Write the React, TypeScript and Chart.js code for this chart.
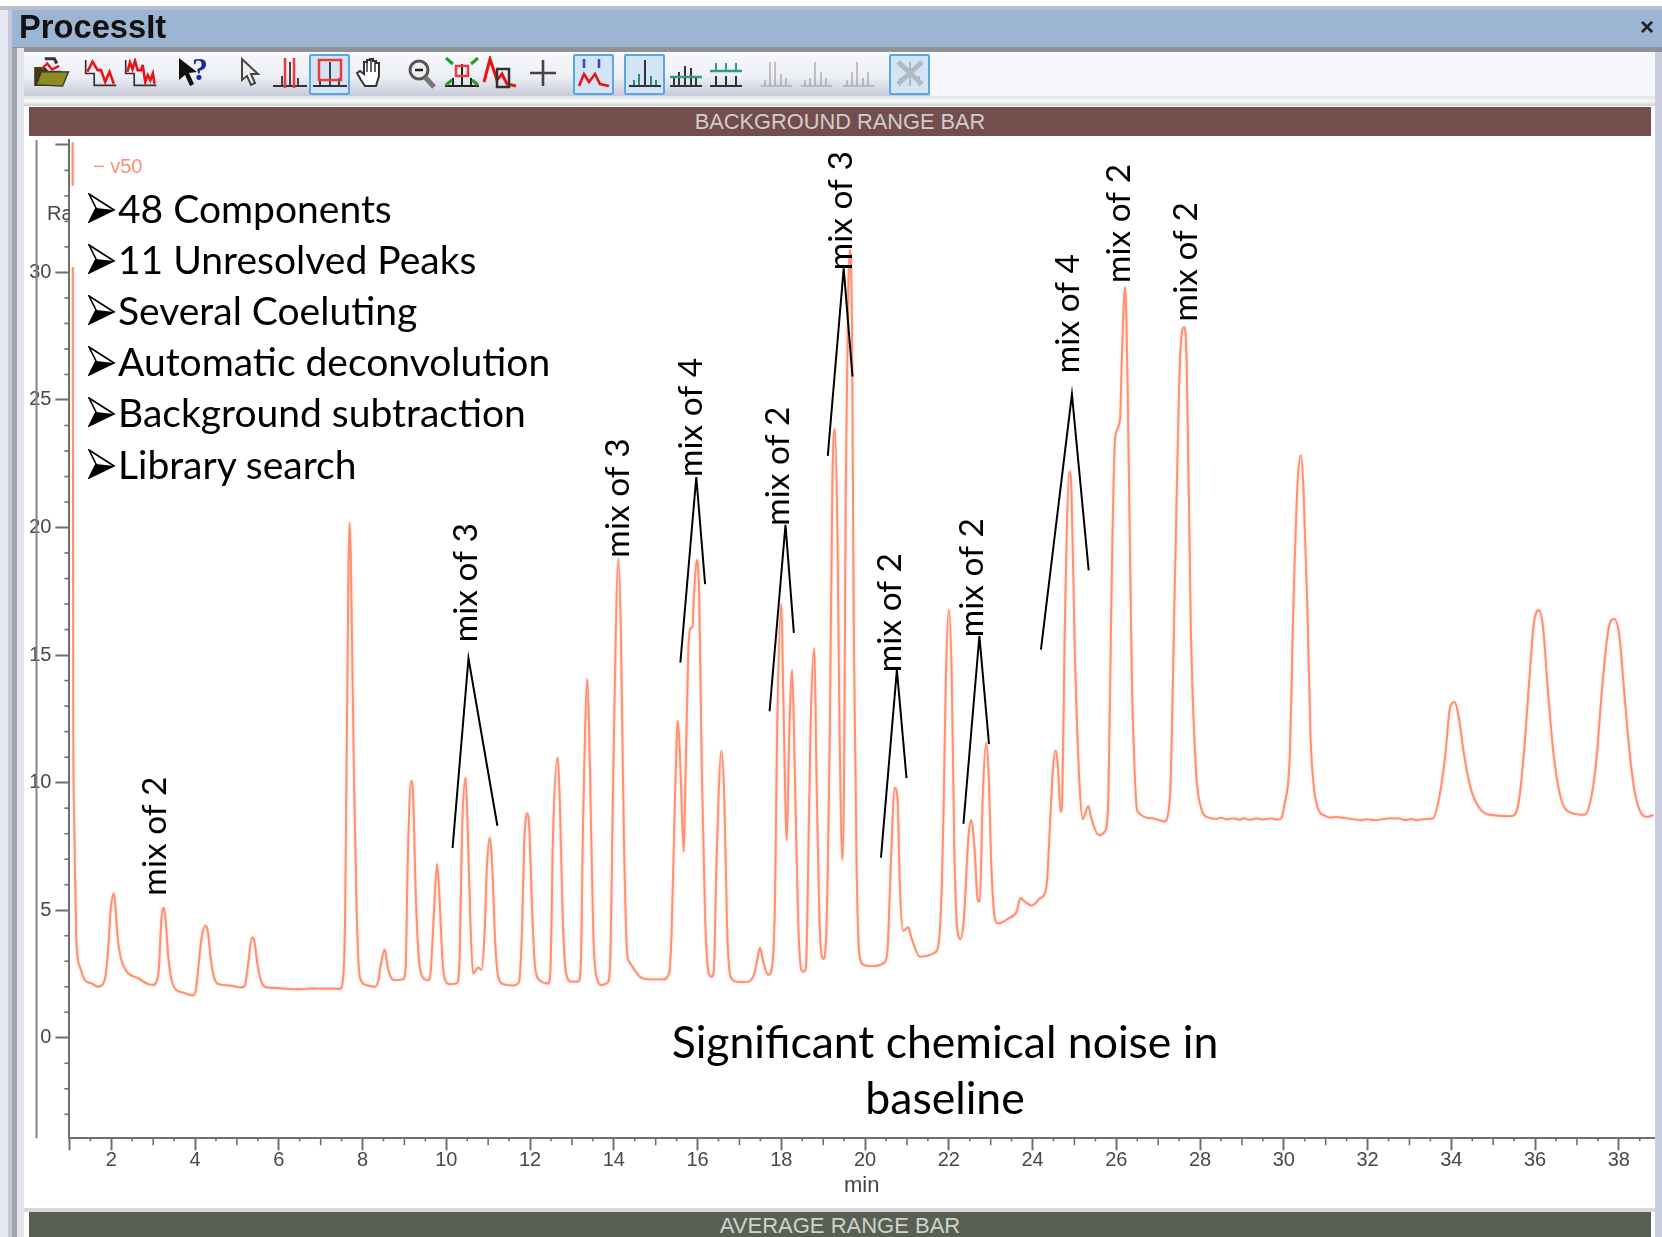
import React, { useEffect, useRef } from "react";
import { Chart, registerables } from "chart.js";

Chart.register(...registerables);

const seriesName = "v50";
const xLabelTicks = [1, 2, 4, 6, 8, 10, 12, 14, 16, 18, 20, 22, 24, 26, 28, 30, 32, 34, 36, 38];
const yLabelTicks = [0, 5, 10, 15, 20, 25, 30, 35];
const yUnlabelled = [35];
const xUnlabelled = [1];

const retentionMin = [
  1.078, 1.079, 1.08, 1.081, 1.09, 1.11, 1.13, 1.17, 1.25, 1.37, 1.53, 1.69, 1.81, 1.87, 1.93, 1.985, 2.06, 2.1, 2.15, 2.22, 2.3, 2.41, 2.65, 2.88, 3.0, 3.08, 3.14, 3.19, 3.25, 3.3, 3.36, 3.44, 3.52, 3.72, 3.96, 4.02, 4.08, 4.15, 4.24, 4.3, 4.37, 4.45, 4.56, 4.83, 5.11, 5.19, 5.26, 5.36, 5.42, 5.5, 5.6, 5.71, 5.95, 6.2, 6.5, 6.8, 7.1, 7.46, 7.53, 7.58, 7.62, 7.69, 7.79, 7.85, 7.91, 7.98, 8.1, 8.3, 8.38, 8.44, 8.53, 8.6, 8.69, 8.77, 8.97, 9.03, 9.08, 9.16, 9.21, 9.27, 9.34, 9.41, 9.57, 9.63, 9.7, 9.78, 9.84, 9.91, 9.97, 10.09, 10.25, 10.31, 10.38, 10.46, 10.51, 10.58, 10.64, 10.72, 10.76, 10.84, 10.91, 10.97, 11.04, 11.09, 11.17, 11.24, 11.36, 11.6, 11.74, 11.81, 11.86, 11.93, 11.98, 12.05, 12.12, 12.24, 12.44, 12.49, 12.55, 12.66, 12.71, 12.78, 12.86, 12.99, 13.15, 13.21, 13.27, 13.37, 13.43, 13.51, 13.61, 13.71, 13.85, 13.91, 13.99, 14.11, 14.17, 14.24, 14.32, 14.37, 14.5, 14.62, 14.86, 15.18, 15.32, 15.38, 15.46, 15.53, 15.59, 15.67, 15.71, 15.78, 15.83, 15.88, 15.91, 15.98, 16.04, 16.1, 16.18, 16.26, 16.34, 16.39, 16.45, 16.57, 16.64, 16.71, 16.79, 16.93, 17.13, 17.33, 17.41, 17.49, 17.57, 17.69, 17.78, 17.85, 17.9, 18.0, 18.05, 18.13, 18.19, 18.26, 18.32, 18.4, 18.48, 18.54, 18.59, 18.64, 18.7, 18.79, 18.84, 18.91, 19.0, 19.07, 19.16, 19.22, 19.28, 19.34, 19.39, 19.46, 19.5, 19.54, 19.6, 19.64, 19.69, 19.73, 19.8, 19.86, 19.96, 20.2, 20.47, 20.54, 20.61, 20.71, 20.78, 20.83, 20.91, 21.03, 21.11, 21.31, 21.67, 21.79, 21.87, 21.93, 22.0, 22.07, 22.13, 22.2, 22.28, 22.36, 22.47, 22.54, 22.61, 22.69, 22.74, 22.81, 22.89, 22.95, 23.02, 23.1, 23.18, 23.42, 23.62, 23.71, 23.82, 23.98, 24.18, 24.33, 24.42, 24.48, 24.55, 24.6, 24.67, 24.71, 24.77, 24.88, 24.93, 25.01, 25.12, 25.2, 25.25, 25.33, 25.41, 25.58, 25.73, 25.81, 25.89, 25.97, 26.09, 26.13, 26.21, 26.27, 26.37, 26.45, 26.5, 26.88, 27.15, 27.28, 27.4, 27.52, 27.62, 27.68, 27.78, 27.9, 28.02, 28.22, 28.4, 28.5, 28.63, 28.8, 28.95, 29.05, 29.17, 29.35, 29.5, 29.7, 29.85, 29.93, 30.02, 30.14, 30.23, 30.33, 30.41, 30.47, 30.56, 30.64, 30.72, 30.84, 30.97, 31.1, 31.25, 31.43, 31.6, 31.84, 32.0, 32.15, 32.34, 32.5, 32.75, 32.9, 33.05, 33.16, 33.35, 33.56, 33.72, 33.85, 33.97, 34.08, 34.17, 34.3, 34.46, 34.67, 34.91, 35.45, 35.61, 35.74, 35.86, 35.97, 36.09, 36.19, 36.31, 36.44, 36.6, 36.77, 37.18, 37.35, 37.47, 37.6, 37.76, 37.89, 38.01, 38.13, 38.26, 38.38, 38.53, 38.69, 38.83,
];

const intensity = [
  35.1, 33.4, null, 30.2, 13, 9, 7, 3.7, 2.78, 2.26, 2.13, 2.0, 2.13, 2.52, 3.57, 5.0, 5.66, 5.14, 3.96, 3.18, 2.78, 2.52, 2.33, 2.1, 2.07, 2.2, 2.78, 4.5, 5.11, 4.6, 3.18, 2.26, 1.93, 1.77, 1.66, 1.87, 2.78, 3.83, 4.39, 4.22, 3.18, 2.39, 2.1, 2.05, 1.97, 2.06, 2.78, 3.93, 3.76, 2.78, 2.13, 1.97, 1.95, 1.92, 1.9, 1.93, 1.92, 1.92, 2.26, 4.35, 10.9, 20.2, 10.9, 5.66, 2.78, 2.2, 2.06, 2.0, 2.26, 2.9, 3.46, 2.78, 2.33, 2.26, 2.29, 2.78, 6.96, 10.08, 9.45, 5.66, 3.18, 2.46, 2.26, 2.65, 4.74, 6.81, 5.4, 3.05, 2.26, 2.1, 2.13, 2.78, 8.27, 10.2, 8.27, 4.35, 2.52, 2.68, 2.76, 2.65, 3.96, 6.7, 7.84, 6.96, 3.7, 2.39, 2.1, 2.05, 2.2, 4.35, 7.6, 8.8, 8.27, 5.0, 2.78, 2.24, 2.13, 2.78, 8.0, 10.99, 9.32, 4.74, 2.52, 2.2, 2.2, 2.78, 8.67, 14.06, 10.63, 4.09, 2.26, 2.07, 2.16, 2.78, 10.63, 18.79, 15.85, 8.0, 3.31, 2.98, 2.65, 2.39, 2.29, 2.29, 2.52, 4.09, 9.32, 12.43, 10.63, 7.29, 9.97, 15.2, 16.05, 16.1, 17.16, 18.73, 17.29, 10.63, 4.74, 2.59, 2.39, 2.65, 6.7, 11.25, 9.32, 4.09, 2.39, 2.2, 2.18, 2.39, 2.92, 3.53, 2.98, 2.46, 2.78, 5.4, 11.93, 17.0, 13.24, 7.73, 11.93, 14.42, 10.63, 4.74, 2.65, 2.59, 2.77, 6.57, 12.27, 15.27, 10.37, 4.67, 3.09, 3.9, 12.27, 21.77, 23.86, 19.87, 12.27, 6.95, 10.37, 21.77, 29.37, 30.89, 27.47, 16.07, 6.57, 3.34, 2.86, 2.81, 2.96, 3.53, 6.57, 9.8, 9.23, 5.99, 4.19, 4.33, 3.9, 3.18, 3.34, 4.29, 8.47, 14.17, 16.79, 14.17, 7.52, 4.29, 3.87, 4.67, 7.9, 8.53, 7.52, 5.43, 5.33, 9.42, 11.57, 10.37, 6.57, 4.67, 4.48, 4.67, 4.95, 5.47, 5.33, 5.18, 5.47, 5.9, 8.47, 10.37, 11.26, 10.75, 8.85, 9.42, 16.07, 22.19, 21.39, 15.12, 9.99, 8.56, 8.75, 9.08, 8.56, 7.94, 8.09, 9.42, 17.97, 23.48, 24.24, 26.52, 29.43, 25.57, 14.17, 9.99, 8.89, 8.6, 8.48, 9.42, 17.97, 26.52, 27.85, 26.52, 16.07, 10.56, 9.04, 8.62, 8.58, 8.63, 8.56, 8.6, 8.55, 8.61, 8.54, 8.6, 8.56, 8.6, 8.55, 8.59, 9.19, 10.99, 16.99, 21.79, 22.84, 21.49, 16.99, 11.74, 9.79, 8.89, 8.71, 8.63, 8.66, 8.62, 8.58, 8.53, 8.57, 8.53, 8.56, 8.6, 8.6, 8.53, 8.58, 8.53, 8.57, 8.59, 9.49, 10.99, 12.94, 13.16, 12.64, 11.14, 9.79, 9.01, 8.74, 8.69, 9.26, 11.29, 13.99, 16.24, 16.76, 16.09, 13.54, 11.14, 9.49, 8.89, 8.74, 9.49, 10.99, 13.69, 16.09, 16.42, 15.79, 13.54, 11.14, 9.64, 8.81, 8.66, 8.74,
];

const leaderTimes = [
  [10.15, 10.53, 11.22],
  [15.59, 15.97, 16.18],
  [17.72, 18.1, 18.3],
  [19.11, 19.49, 19.7],
  [20.38, 20.76, 20.99],
  [22.35, 22.73, 22.96],
  [24.2, 24.94, 25.34],
];
const leaderValues = [
  [7.44, 14.87, 8.31],
  [14.71, 21.98, 17.78],
  [12.8, 20.11, 15.87],
  [22.81, 30.16, 25.92],
  [7.06, 14.42, 10.18],
  [8.39, 15.75, 11.51],
  [15.21, 25.22, 18.32],
];

const mixLabels = ["mix of 2", "mix of 3", "mix of 3", "mix of 4", "mix of 2", "mix of 3", "mix of 2", "mix of 2", "mix of 4", "mix of 2", "mix of 2"];
const mixLabelTimes = [3.06, 10.48, 14.1, 15.85, 17.92, 19.44, 20.6, 22.56, 24.86, 26.08, 27.67];
const mixLabelValues = [5.57, 15.5, 18.82, 21.98, 20.07, 30.08, 14.33, 15.7, 26.05, 29.58, 28.08];

const bulletItems = ["48 Components", "11 Unresolved Peaks", "Several Coeluting", "Automatic deconvolution", "Background subtraction", "Library search"];
const noteLines = ["Significant chemical noise in", "baseline"];

const axisGray = "#6f6f6f";
const labelGray = "#484848";
const traceColor = "#ff8f70";

const overlayPlugin = {
  id: "overlay",
  beforeDatasetDraw(chart: any, args: any) {
    if (chart.data.datasets[args.index].label === seriesName) {
      chart.ctx.save();
      chart.ctx.shadowColor = "rgba(255,160,130,0.7)";
      chart.ctx.shadowBlur = 2;
    }
  },
  afterDatasetDraw(chart: any, args: any) {
    if (chart.data.datasets[args.index].label === seriesName) {
      chart.ctx.restore();
    }
  },
  afterDraw(chart: any) {
    const { ctx, scales, chartArea } = chart;
    const x = scales.x;
    const y = scales.y;
    ctx.save();
    ctx.strokeStyle = axisGray;
    ctx.lineWidth = 1.6;
    // minor ticks on the time axis
    for (let i = 2; i <= 77; i++) {
      const t = i / 2;
      if (t % 2 === 0 || t === 1) continue;
      const len = t % 1 === 0 ? 7 : 3;
      const px = x.getPixelForValue(t);
      ctx.beginPath();
      ctx.moveTo(px, chartArea.bottom);
      ctx.lineTo(px, chartArea.bottom + len);
      ctx.stroke();
    }
    // minor ticks on the intensity axis
    for (let v = -3; v <= 34; v++) {
      if (v % 5 === 0) continue;
      const py = y.getPixelForValue(v);
      ctx.beginPath();
      ctx.moveTo(chartArea.left, py);
      ctx.lineTo(chartArea.left - 5, py);
      ctx.stroke();
    }
    // remaining clipped y-axis title
    ctx.strokeStyle = "#858585";
    ctx.lineWidth = 2;
    ctx.beginPath();
    ctx.moveTo(36.5, chartArea.top);
    ctx.lineTo(36.5, chartArea.bottom);
    ctx.stroke();
    ctx.save();
    ctx.beginPath();
    ctx.rect(30, chartArea.top, chartArea.left - 30, 200);
    ctx.clip();
    ctx.fillStyle = labelGray;
    ctx.font = '20px "Liberation Sans"';
    ctx.textAlign = "left";
    ctx.textBaseline = "middle";
    ctx.fillText("Ra", 47, 214);
    ctx.restore();
    // legend
    ctx.fillStyle = traceColor;
    ctx.font = '20px "Liberation Sans"';
    ctx.textAlign = "left";
    ctx.textBaseline = "middle";
    ctx.fillText("\u2212 " + seriesName, 93, 167);
    // mix labels
    ctx.fillStyle = "#000";
    ctx.font = "33.5px Lato";
    mixLabels.forEach((s, i) => {
      ctx.save();
      ctx.translate(x.getPixelForValue(mixLabelTimes[i]), y.getPixelForValue(mixLabelValues[i]));
      ctx.rotate(-Math.PI / 2);
      ctx.textAlign = "left";
      ctx.textBaseline = "middle";
      ctx.fillText(s, 0, 0);
      ctx.restore();
    });
    ctx.restore();
  },
};

const Svg = ({ x, y, w, h, vb, children, o }: any) => (
  <svg width={w} height={h} viewBox={vb} style={{ position: "absolute", left: x, top: y, filter: "blur(0.5px)", opacity: o ?? 1 }}>
    {children}
  </svg>
);

const Bars = ({ xs, hs, base, color, w = 2 }: any) => (
  <g stroke={color} strokeWidth={w}>
    {xs.map((bx: number, i: number) => (
      <line key={i} x1={bx} x2={bx} y1={base} y2={base - hs[i]} />
    ))}
  </g>
);

const Select = ({ x }: any) => (
  <div style={{ position: "absolute", left: x, top: 54, width: 37, height: 37, border: "2px solid #5ba6e6", borderRadius: 2, background: "#d3e5f5" }} />
);

const Chroma = ({ x, dense }: any) => (
  <Svg x={x} y={58} w={34} h={31} vb="0 0 40 36">
    <path d="M2 2V18H12V32H38" fill="none" stroke="#333" strokeWidth="2" />
    <path d={dense ? "M4 16L7 5L10 13L13 3L16 14H20L22 8L25 28L28 20L31 26L34 18L36 30" : "M4 16L10 4L16 14H20L25 28L30 16L35 30"} fill="none" stroke="#e81414" strokeWidth="3" />
  </Svg>
);

export default function App() {
  const ref = useRef<HTMLCanvasElement>(null);
  useEffect(() => {
    const leaderSets = leaderTimes.map((ts, i) => ({
      type: "line" as const,
      data: ts.map((t, j) => ({ x: t, y: leaderValues[i][j] })),
      borderColor: "#000",
      borderWidth: 2,
      pointRadius: 0,
      tension: 0,
      order: 0,
    }));
    const chart = new Chart(ref.current!, {
      type: "line",
      data: {
        datasets: [
          ...leaderSets,
          {
            label: seriesName,
            data: retentionMin.map((t, i) => ({ x: t, y: intensity[i] })),
            borderColor: traceColor,
            borderWidth: 1.9,
            pointRadius: 0,
            cubicInterpolationMode: "monotone",
            spanGaps: false,
            order: 1,
          },
        ] as any,
      },
      options: {
        animation: false,
        responsive: false,
        devicePixelRatio: 1,
        layout: { padding: { left: 0, right: 8, top: 140, bottom: 0 } },
        plugins: { legend: { display: false }, tooltip: { enabled: false } },
        scales: {
          x: {
            type: "linear",
            min: 1,
            max: 38.84,
            afterBuildTicks: (s: any) => {
              s.ticks = xLabelTicks.map((value) => ({ value }));
            },
            afterFit: (s: any) => {
              s.height = 98.7;
            },
            border: { color: axisGray, width: 2 },
            grid: { drawOnChartArea: false, tickLength: 12, tickColor: axisGray, tickWidth: 2 },
            ticks: {
              autoSkip: false,
              maxRotation: 0,
              padding: -2,
              color: labelGray,
              font: { family: "Liberation Sans", size: 20 },
              callback: (v: any) => (xUnlabelled.includes(v) ? "" : String(v)),
            },
            title: { display: true, text: "min", color: "#444", font: { family: "Liberation Sans", size: 22 }, padding: { top: 0, bottom: 38 } },
          },
          y: {
            type: "linear",
            min: -3.94,
            max: 35.19,
            afterBuildTicks: (s: any) => {
              s.ticks = yLabelTicks.map((value) => ({ value }));
            },
            afterFit: (s: any) => {
              s.width = 69.4;
            },
            border: { color: axisGray, width: 2 },
            grid: { drawOnChartArea: false, tickLength: 14, tickColor: axisGray, tickWidth: 2 },
            ticks: {
              autoSkip: false,
              padding: 4,
              color: labelGray,
              font: { family: "Liberation Sans", size: 20 },
              callback: (v: any) => (yUnlabelled.includes(v) ? "" : String(v)),
            },
          },
        },
      },
      plugins: [overlayPlugin],
    } as any);
    return () => chart.destroy();
  }, []);

  const abs = (left: number, top: number, width: number, height: number, background: string, extra: any = {}) => (
    <div style={{ position: "absolute", left, top, width, height, background, ...extra }} />
  );

  return (
    <div style={{ position: "absolute", left: 0, top: 0, width: 1662, height: 1237, overflow: "hidden", background: "#fff" }}>
      {/* window frame */}
      {abs(0, 6, 1662, 4, "#b9bdd0")}
      {abs(0, 10, 1662, 38, "#9bb5d3")}
      {abs(0, 47, 1662, 5, "#8f9196")}
      {abs(0, 10, 8, 1227, "#e6e8f2")}
      {abs(8, 10, 4, 1227, "#c4c7dc")}
      {abs(12, 48, 5, 1189, "#a0a2ac")}
      {abs(17, 48, 7, 1189, "#e4e5ec")}
      {abs(1655, 52, 7, 1185, "#c8cde0")}
      {/* title */}
      <div style={{ position: "absolute", left: 19, top: 8, font: 'bold 32.7px "Liberation Sans"', color: "#111", lineHeight: "38px", filter: "blur(0.4px)" }}>ProcessIt</div>
      <div style={{ position: "absolute", left: 1640, top: 12, font: 'bold 24px "Liberation Sans"', color: "#222", lineHeight: "30px" }}>×</div>
      {/* toolbar */}
      {abs(24, 52, 1631, 44, "#f5f7fd")}
      {abs(24, 52, 906, 44, "linear-gradient(#f7f8fc 0%, #eef0f7 55%, #c8cbd8 100%)")}
      {abs(24, 96, 1631, 10, "linear-gradient(#e2e2e2, #f7f7f7 50%, #cfcfcf)")}
      <Select x={309} />
      <Select x={573} />
      <Select x={624} />
      <Select x={889} />
      <Svg x={33} y={56} w={38} h={34} vb="2 3 32 28">
        <path d="M3 12H12L15 15H26V28H3Z" fill="#3d3d10" />
        <path d="M5 27L9 16H32L27 28Z" fill="#8e8a22" stroke="#333" />
        <path d="M12 5H20L22 9" fill="none" stroke="#333" strokeWidth="2.5" />
        <path d="M9 14L14 9L18 14L24 11" fill="none" stroke="#e81414" strokeWidth="2" />
      </Svg>
      <Chroma x={84} />
      <Chroma x={124} dense />
      <Svg x={176} y={54} w={36} h={36}>
        <path d="M3 4V26L9 21L14 32L18 30L13 19L21 18Z" fill="#111" />
        <text x="16" y="26" fontFamily="Liberation Serif" fontWeight="bold" fontSize="32" fill="#1c2a9a">?</text>
      </Svg>
      <Svg x={238} y={56} w={24} h={34}>
        <path d="M4 3V24L9 20L13 29L17 27L13 18L20 18Z" fill="#eee" stroke="#444" strokeWidth="2" />
      </Svg>
      <Svg x={272} y={56} w={36} h={34}>
        <Bars xs={[10, 18, 26]} hs={[10, 24, 8]} base={30} color="#444" />
        <line x1="1" x2="35" y1="30" y2="30" stroke="#333" strokeWidth="2" />
        <line x1="13" x2="13" y1="2" y2="32" stroke="#ee3a3a" strokeWidth="2.5" />
        <line x1="22" x2="22" y1="2" y2="32" stroke="#ee3a3a" strokeWidth="2.5" />
      </Svg>
      <Svg x={312} y={56} w={36} h={34}>
        <Bars xs={[8, 18, 27]} hs={[6, 24, 8]} base={30} color="#444" />
        <line x1="1" x2="35" y1="30" y2="30" stroke="#333" strokeWidth="2" />
        <rect x="7" y="4" width="22" height="20" fill="none" stroke="#ee3a3a" strokeWidth="2.5" />
      </Svg>
      <Svg x={355} y={56} w={30} h={34}>
        <path d="M6 24L2 17L5 15L9 18V6H12V4H15V3H18V5H21V7H24V20L21 30H10Z" fill="#fff" stroke="#333" strokeWidth="2" />
        <path d="M12 5V16M16 4V16M20 6V16" stroke="#333" strokeWidth="1.5" />
      </Svg>
      <Svg x={406} y={56} w={32} h={34}>
        <circle cx="13" cy="14" r="9" fill="#eee" stroke="#555" strokeWidth="3" />
        <line x1="9" x2="17" y1="14" y2="14" stroke="#222" strokeWidth="2.5" />
        <line x1="19" x2="28" y1="21" y2="31" stroke="#777" strokeWidth="5" />
      </Svg>
      <Svg x={444} y={56} w={36} h={34}>
        <Bars xs={[9, 18, 27]} hs={[8, 22, 8]} base={30} color="#222" />
        <line x1="1" x2="35" y1="30" y2="30" stroke="#222" strokeWidth="2" />
        <rect x="12" y="10" width="12" height="10" fill="none" stroke="#ee3a3a" strokeWidth="2.5" />
        <path d="M2 2L9 8M34 2L27 8M2 29L8 24M34 29L28 24" stroke="#2a9a2a" strokeWidth="3" />
      </Svg>
      <Svg x={482} y={56} w={36} h={34}>
        <path d="M2 26L8 3L15 24L20 18L25 28L34 30" fill="none" stroke="#e81414" strokeWidth="3" />
        <rect x="15" y="13" width="12" height="18" fill="none" stroke="#333" strokeWidth="2.5" />
      </Svg>
      <Svg x={528} y={58} w={30} h={30}>
        <path d="M15 2V28M2 15H28" stroke="#444" strokeWidth="2.6" />
      </Svg>
      <Svg x={576} y={56} w={36} h={34}>
        <path d="M3 30L8 18L13 26L19 18L24 28L33 30" fill="none" stroke="#e81414" strokeWidth="2.6" />
        <path d="M8 3V12M23 3V12" stroke="#3b3bd8" strokeWidth="2.5" />
      </Svg>
      <Svg x={627} y={56} w={36} h={34}>
        <Bars xs={[7, 12, 18, 24, 29]} hs={[6, 12, 26, 10, 6]} base={30} color="#2d8a7a" />
        <Bars xs={[18]} hs={[26]} base={30} color="#333" />
        <line x1="2" x2="34" y1="30" y2="30" stroke="#333" strokeWidth="2" />
      </Svg>
      <Svg x={668} y={56} w={36} h={34}>
        <Bars xs={[6, 11, 17, 23, 28]} hs={[10, 14, 20, 18, 8]} base={30} color="#333" />
        <line x1="2" x2="34" y1="21" y2="21" stroke="#2d9a8a" strokeWidth="2.5" />
        <line x1="2" x2="34" y1="30" y2="30" stroke="#333" strokeWidth="2" />
      </Svg>
      <Svg x={708} y={56} w={36} h={34}>
        <Bars xs={[8, 18, 28]} hs={[10, 10, 10]} base={30} color="#333" />
        <Bars xs={[8, 18, 28]} hs={[8, 8, 8]} base={15} color="#2d9a8a" />
        <line x1="2" x2="34" y1="15" y2="15" stroke="#2d9a8a" strokeWidth="2.5" />
        <line x1="2" x2="34" y1="30" y2="30" stroke="#333" strokeWidth="2" />
      </Svg>
      {[760, 800, 842].map((gx, i) => (
        <Svg key={gx} x={gx} y={56} w={34} h={34} o={0.35}>
          <Bars xs={[5, 10, 15, 21, 26]} hs={i === 0 ? [6, 24, 24, 12, 8] : i === 1 ? [6, 8, 24, 14, 8] : [6, 14, 24, 8, 14]} base={30} color="#666" />
          <line x1="1" x2="32" y1="30" y2="30" stroke="#777" strokeWidth="2" />
        </Svg>
      ))}
      <Svg x={892} y={56} w={36} h={34} o={0.45}>
        <Bars xs={[8, 18, 27]} hs={[8, 24, 10]} base={30} color="#888" />
        <path d="M6 6L30 28M30 6L6 28" stroke="#888" strokeWidth="5" />
      </Svg>
      {/* range bar */}
      {abs(29, 107, 1622, 29, "#744d4d")}
      <div style={{ position: "absolute", left: 29, width: 1622, top: 109, height: 29, lineHeight: "29px", textAlign: "center", font: '21.8px "Liberation Sans"', color: "#d2cccc" }}>BACKGROUND RANGE BAR</div>
      {/* chart */}
      <canvas ref={ref} width={1662} height={1237} style={{ position: "absolute", left: 0, top: 0, width: 1662, height: 1237, display: "block" }} />
      {/* bottom bar */}
      {abs(24, 1208, 1631, 4, "#d8d8d8")}
      {abs(29, 1212, 1622, 25, "#596053")}
      <div style={{ position: "absolute", left: 29, width: 1622, top: 1213, height: 25, lineHeight: "25px", textAlign: "center", font: '22px "Liberation Sans"', color: "#cfd2cc" }}>AVERAGE RANGE BAR</div>
      {/* text box */}
      {bulletItems.map((s, i) => (
        <div key={s} style={{ position: "absolute", left: 88, top: 184 + i * 51.1, height: 48, lineHeight: "48px", color: "#000", whiteSpace: "nowrap" }}>
          <svg width={28} height={30} style={{ position: "absolute", left: 0, top: 9 }}>
            <path d="M1 1L26 17L1 29L8 15Z" fill="#fff" stroke="#000" strokeWidth="1.6" />
            <path d="M8 15L26 17L1 29Z" fill="#000" />
          </svg>
          <span style={{ position: "absolute", left: 30, top: 0, font: "39px Lato", lineHeight: "48px" }}>{s}</span>
        </div>
      ))}
      {noteLines.map((s, i) => (
        <div key={s} style={{ position: "absolute", left: 545, width: 800, top: 1014 + i * 56, height: 60, lineHeight: "60px", textAlign: "center", font: "44.5px Lato", color: "#000" }}>{s}</div>
      ))}
    </div>
  );
}
